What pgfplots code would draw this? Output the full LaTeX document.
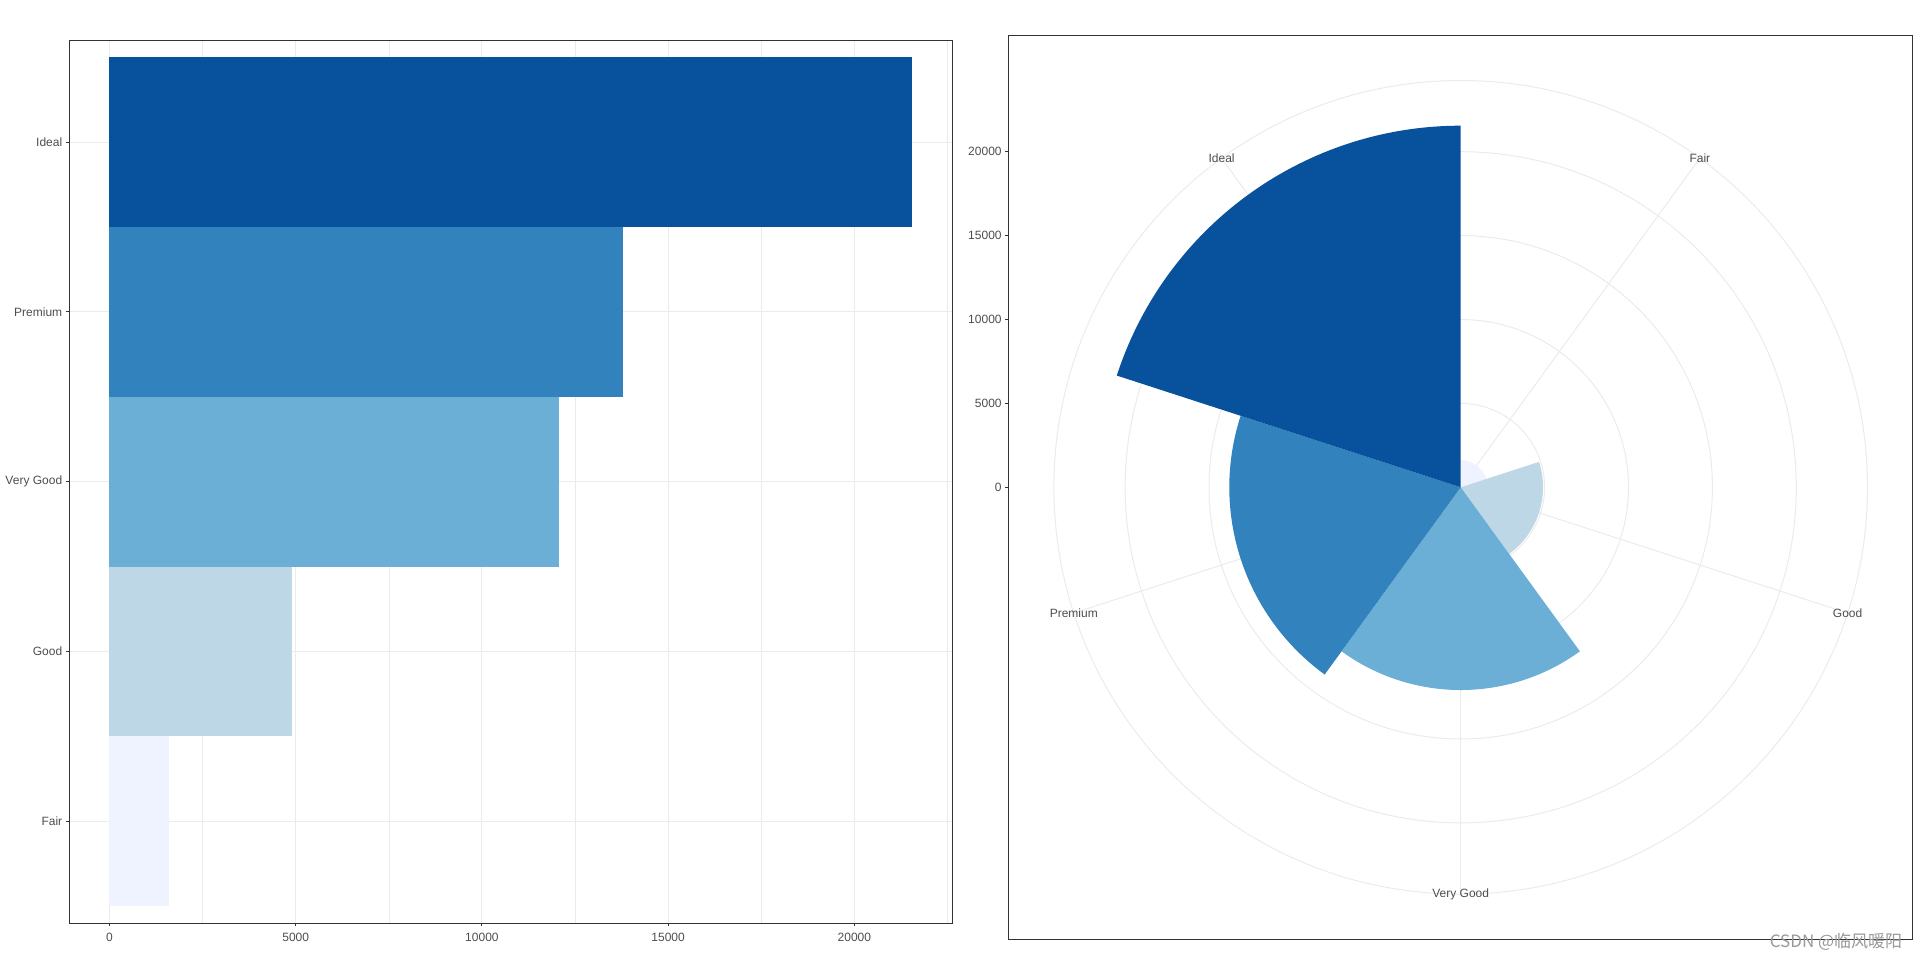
\documentclass[border=0pt]{standalone}
\usepackage{fontspec}
\setmainfont{Liberation Sans}
\newfontfamily\cjk{Noto Sans CJK SC}
\usepackage{pgfplots}
\pgfplotsset{compat=1.18}

% Blues palette, one colour per cut
\definecolor{cFair}{HTML}{EFF3FF}
\definecolor{cGood}{HTML}{BDD7E7}
\definecolor{cVGood}{HTML}{6BAED6}
\definecolor{cPremium}{HTML}{3182BD}
\definecolor{cIdeal}{HTML}{08519C}
\definecolor{gridc}{HTML}{EBEBEB}
\definecolor{framec}{HTML}{333333}
\definecolor{labc}{HTML}{4D4D4D}

\pgfplotsset{gg/.style={
    scale only axis, anchor=south west,
    axis line style={draw=framec, line width=0.5pt},
    tick align=outside, tick pos=left,
    major tick length=1.65pt, minor tick length=0pt,
    major tick style={draw=framec, line width=0.5pt},
    tick label style={font=\fontsize{6}{7}\selectfont, text=labc, inner sep=0pt},
    /pgf/number format/assume math mode=true,
    /pgf/number format/1000 sep={},
    scaled ticks=false,
    xticklabel shift=3.05pt, yticklabel shift=1.7pt,
}}

% pt per count in the polar panel: 0.4*452pt / 21551
\def\ptu{0.0083894}
% radius (in pt) of a count, computed with fpu since counts exceed 16383
\newcommand\defrad[2]{%
  \pgfkeys{/pgf/fpu=true,/pgf/fpu/output format=fixed}%
  \pgfmathsetmacro#1{#2*\ptu}%
  \pgfkeys{/pgf/fpu=false}}
\defrad\rFair{1610}
\defrad\rGood{4906}
\defrad\rVGood{12082}
\defrad\rPremium{13791}
\defrad\rIdeal{21551}
\defrad\gA{5000}
\defrad\gB{10000}
\defrad\gC{15000}
\defrad\gD{20000}

\begin{document}
\begin{tikzpicture}
\path[use as bounding box] (0,0) rectangle (960pt,479.5pt);

% ---- left: horizontal bars
\begin{axis}[gg, at={(34.65pt,18pt)}, width=441.5pt, height=441.35pt,
    xmin=-1077.55, xmax=22628.55, ymin=0.4, ymax=5.6,
    xtick={0,5000,10000,15000,20000},
    minor xtick={2500,7500,12500,17500,22500},
    ytick={1,2,3,4,5}, yticklabels={Fair,Good,Very Good,Premium,Ideal},
    xmajorgrids, ymajorgrids, xminorgrids,
    major grid style={draw=gridc, line width=0.5pt},
    minor grid style={draw=gridc, line width=0.25pt},
    xbar, bar width=1,
]
\addplot[fill=cFair, draw=none, bar shift=0pt] coordinates {(1610,1)};
\addplot[fill=cGood, draw=none, bar shift=0pt] coordinates {(4906,2)};
\addplot[fill=cVGood, draw=none, bar shift=0pt] coordinates {(12082,3)};
\addplot[fill=cPremium, draw=none, bar shift=0pt] coordinates {(13791,4)};
\addplot[fill=cIdeal, draw=none, bar shift=0pt] coordinates {(21551,5)};
\end{axis}

% ---- right: same counts in polar form
\begin{axis}[gg, at={(504.35pt,9.85pt)}, width=452pt, height=452pt,
    xmin=-26938.75, xmax=26938.75, ymin=-26938.75, ymax=26938.75,
    xtick=\empty, ytick={0,5000,10000,15000,20000}, clip=false,
]
\draw[gridc, line width=0.5pt] (axis cs:0,0) circle[radius=\gA pt];
\draw[gridc, line width=0.5pt] (axis cs:0,0) circle[radius=\gB pt];
\draw[gridc, line width=0.5pt] (axis cs:0,0) circle[radius=\gC pt];
\draw[gridc, line width=0.5pt] (axis cs:0,0) circle[radius=\gD pt];
\draw[gridc, line width=0.5pt] (axis cs:0,0) circle[radius=203.4pt];
\draw[gridc, line width=0.5pt] (axis cs:0,0) -- ++(54:203.4pt);
\draw[gridc, line width=0.5pt] (axis cs:0,0) -- ++(-18:203.4pt);
\draw[gridc, line width=0.5pt] (axis cs:0,0) -- ++(-90:203.4pt);
\draw[gridc, line width=0.5pt] (axis cs:0,0) -- ++(-162:203.4pt);
\draw[gridc, line width=0.5pt] (axis cs:0,0) -- ++(126:203.4pt);

\fill[cFair] (axis cs:0,0) -- ++(90:\rFair pt) arc[start angle=90, end angle=18, radius=\rFair pt] -- cycle;
\fill[cGood] (axis cs:0,0) -- ++(18:\rGood pt) arc[start angle=18, end angle=-54, radius=\rGood pt] -- cycle;
\fill[cVGood] (axis cs:0,0) -- ++(-54:\rVGood pt) arc[start angle=-54, end angle=-126, radius=\rVGood pt] -- cycle;
\fill[cPremium] (axis cs:0,0) -- ++(-126:\rPremium pt) arc[start angle=-126, end angle=-198, radius=\rPremium pt] -- cycle;
\fill[cIdeal] (axis cs:0,0) -- ++(-198:\rIdeal pt) arc[start angle=-198, end angle=-270, radius=\rIdeal pt] -- cycle;

\path (axis cs:0,0) ++(54:203.4pt) node[font=\fontsize{6}{7}\selectfont, text=labc] {Fair};
\path (axis cs:0,0) ++(-18:203.4pt) node[font=\fontsize{6}{7}\selectfont, text=labc] {Good};
\path (axis cs:0,0) ++(-90:203.4pt) node[font=\fontsize{6}{7}\selectfont, text=labc] {Very Good};
\path (axis cs:0,0) ++(-162:203.4pt) node[font=\fontsize{6}{7}\selectfont, text=labc] {Premium};
\path (axis cs:0,0) ++(126:203.4pt) node[font=\fontsize{6}{7}\selectfont, text=labc] {Ideal};
\end{axis}

\node[text=black!40, font=\cjk\fontsize{8.5}{10}\selectfont] at (918pt,8.65pt) {CSDN @临风暖阳};
\end{tikzpicture}
\end{document}
